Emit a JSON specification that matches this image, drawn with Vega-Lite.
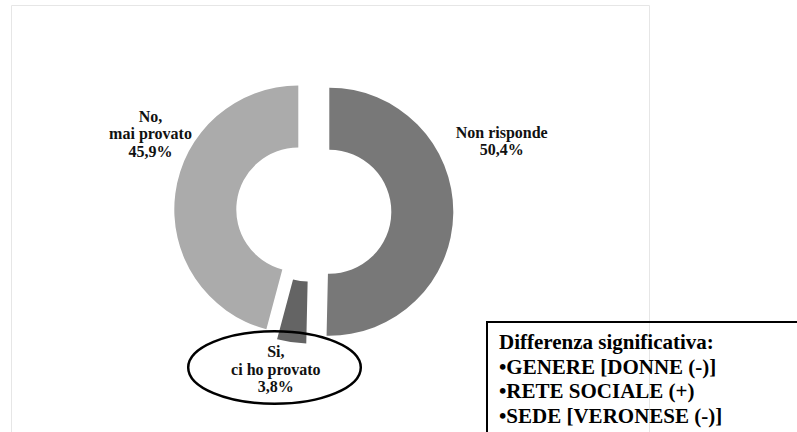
{
  "$schema": "https://vega.github.io/schema/vega-lite/v6.json",
  "width": 638,
  "height": 427,
  "autosize": {"type": "none"},
  "padding": {"left": 11, "top": 5, "right": 148, "bottom": 0},
  "background": "white",
  "config": {"view": {"stroke": "#e6e6e6", "strokeWidth": 1}},
  "layer": [
    {
      "data": {"values": [
        {"cat": "Non risponde", "label": "Non risponde\n50,4%", "value": 50.4, "order": 1},
        {"cat": "Si, ci ho provato", "label": "Si,\nci ho provato\n3,8%", "value": 3.8, "order": 2},
        {"cat": "No, mai provato", "label": "No,\nmai provato\n45,9%", "value": 45.9, "order": 3}
      ]},
      "transform": [
        {"stack": "value", "groupby": [], "sort": [{"field": "order", "order": "ascending"}], "as": ["v0", "v1"]}
      ],
      "layer": [
        {
          "transform": [{"filter": "datum.order == 1"}],
          "layer": [
            {
              "mark": {"type": "arc", "x": 318.3, "y": 206.7, "radius": 124, "radius2": 62},
              "encoding": {
                "theta": {"field": "v0", "type": "quantitative", "scale": {"domain": [0, 100.1]}},
                "theta2": {"field": "v1"},
                "color": {"field": "cat", "type": "nominal", "legend": null,
                  "scale": {"domain": ["Non risponde", "Si, ci ho provato", "No, mai provato"], "range": ["#787878", "#646464", "#ababab"]}}
              }
            },
            {
              "mark": {"type": "text", "x": 302.8, "y": 206.5, "radius": 203.8, "thetaOffset": 1.1732,
                "font": "Liberation Serif", "fontSize": 16, "fontWeight": "bold", "lineHeight": 17.5, "lineBreak": "\n",
                "align": "center", "baseline": "middle", "color": "#111111"},
              "encoding": {
                "theta": {"field": "v0", "type": "quantitative", "stack": null, "scale": {"domain": [0, 100.1]}},
                "text": {"field": "label"}
              }
            }
          ]
        },
        {
          "transform": [{"filter": "datum.order == 2"}],
          "layer": [
            {
              "mark": {"type": "arc", "x": 298, "y": 214.5, "radius": 124, "radius2": 62},
              "encoding": {
                "theta": {"field": "v0", "type": "quantitative", "scale": {"domain": [0, 100.1]}},
                "theta2": {"field": "v1"},
                "color": {"field": "cat", "type": "nominal", "legend": null}
              }
            },
            {
              "mark": {"type": "text", "x": 302.8, "y": 206.5, "radius": 146.0, "thetaOffset": 0.2412,
                "font": "Liberation Serif", "fontSize": 16, "fontWeight": "bold", "lineHeight": 17.5, "lineBreak": "\n",
                "align": "center", "baseline": "middle", "color": "#111111"},
              "encoding": {
                "theta": {"field": "v0", "type": "quantitative", "stack": null, "scale": {"domain": [0, 100.1]}},
                "text": {"field": "label"}
              }
            },
            {
              "mark": {"type": "point", "x": 263.5, "y": 362.5, "size": 29791, "filled": false, "opacity": 1,
                "stroke": "#000000", "strokeWidth": 2.5,
                "shape": "M-1,0C-1,-0.2323,-0.5523,-0.4206,0,-0.4206C0.5523,-0.4206,1,-0.2323,1,0C1,0.2323,0.5523,0.4206,0,0.4206C-0.5523,0.4206,-1,0.2323,-1,0Z"},
              "encoding": {}
            }
          ]
        },
        {
          "transform": [{"filter": "datum.order == 3"}],
          "layer": [
            {
              "mark": {"type": "arc", "x": 287.3, "y": 204.5, "radius": 124, "radius2": 62},
              "encoding": {
                "theta": {"field": "v0", "type": "quantitative", "scale": {"domain": [0, 100.1]}},
                "theta2": {"field": "v1"},
                "color": {"field": "cat", "type": "nominal", "legend": null}
              }
            },
            {
              "mark": {"type": "text", "x": 302.8, "y": 206.5, "radius": 188.9, "thetaOffset": 1.8372,
                "font": "Liberation Serif", "fontSize": 16, "fontWeight": "bold", "lineHeight": 17.5, "lineBreak": "\n",
                "align": "center", "baseline": "middle", "color": "#111111"},
              "encoding": {
                "theta": {"field": "v0", "type": "quantitative", "stack": null, "scale": {"domain": [0, 100.1]}},
                "text": {"field": "label"}
              }
            }
          ]
        }
      ]
    },
    {
      "data": {"values": [
        {"nota": "Differenza significativa:\n•GENERE [DONNE (-)]\n•RETE SOCIALE (+)\n•SEDE [VERONESE (-)]"}
      ]},
      "layer": [
        {
          "mark": {"type": "rule", "color": "#000000", "strokeWidth": 2},
          "encoding": {"x": {"value": 476}, "x2": {"value": 800}, "y": {"value": 317}}
        },
        {
          "mark": {"type": "rule", "color": "#000000", "strokeWidth": 2},
          "encoding": {"x": {"value": 476}, "y": {"value": 316}, "y2": {"value": 440}}
        },
        {
          "mark": {"type": "text", "x": 488, "y": 344, "align": "left", "baseline": "alphabetic",
            "font": "Liberation Serif", "fontSize": 21, "fontWeight": "bold", "lineHeight": 24.7, "lineBreak": "\n", "color": "#000000"},
          "encoding": {"text": {"field": "nota"}}
        }
      ]
    }
  ]
}
